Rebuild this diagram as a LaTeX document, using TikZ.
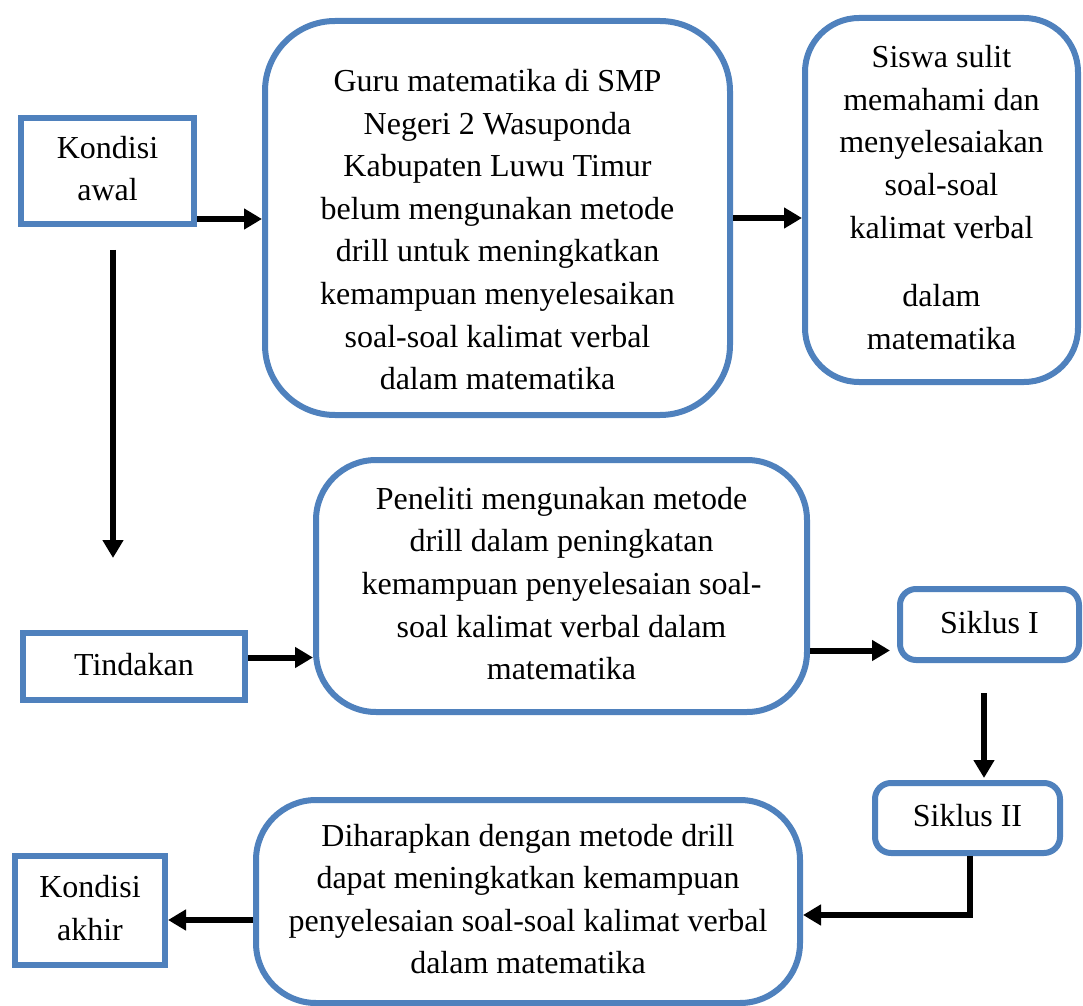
\documentclass[tikz,border=0pt]{standalone}
\usepackage{fontspec}
\setmainfont{Liberation Serif}
\usetikzlibrary{positioning,arrows.meta}

\begin{document}
\begin{tikzpicture}[x=0.5pt,y=-0.5pt]
  \definecolor{borderblue}{HTML}{4F81BD}
  \newcommand{\boxtext}[1]{\fontsize{16}{21.3}\selectfont \begin{tabular}{c}#1\end{tabular}}
  \tikzstyle{block}      = [rectangle, draw = borderblue, line width=3pt, inner sep=0pt, fill=white]
  \tikzstyle{roundblock} = [block, rounded corners=30pt]
  \tikzstyle{smallround} = [block, rounded corners=8pt]
  \tikzstyle{connector}  = [line width=3pt, -{Triangle[length=9pt,width=10pt]}]

  \useasboundingbox (0,0) rectangle (1083,1006);

  \node [block, minimum width=86.5pt, minimum height=53pt]                  (awal)     at (107.5,171)  {\boxtext{Kondisi\\awal}};
  \node [roundblock, rounded corners=35pt, minimum width=232.5pt, minimum height=197pt] (guru) at (497.5,218)
        {\boxtext{\rule{0pt}{29pt}Guru matematika di SMP\\Negeri 2 Wasuponda\\Kabupaten Luwu Timur\\belum mengunakan metode\\drill untuk meningkatkan\\kemampuan menyelesaikan\\soal-soal kalimat verbal\\dalam matematika}};
  \node [roundblock, rounded corners=27pt, minimum width=136.5pt, minimum height=182pt] (siswa) at (941.5,200)
        {\boxtext{Siswa sulit\\memahami dan\\menyelesaiakan\\soal-soal\\kalimat verbal\\[13pt]dalam\\matematika}};
  \node [block, minimum width=111pt, minimum height=33.5pt]                 (tindakan) at (134,666.5)  {\boxtext{Tindakan}};
  \node [roundblock, minimum width=245.5pt, minimum height=126pt]           (peneliti) at (561.5,586)
        {\boxtext{Peneliti mengunakan metode\\drill dalam peningkatan\\kemampuan penyelesaian soal-\\soal kalimat verbal dalam\\matematika}};
  \node [smallround, minimum width=89.5pt, minimum height=35.5pt]           (siklus1)  at (989.5,624.5) {\boxtext{Siklus I}};
  \node [smallround, minimum width=92.5pt, minimum height=35pt]             (siklus2)  at (967.5,818)   {\boxtext{Siklus II}};
  \node [roundblock, minimum width=272pt, minimum height=101.5pt]           (diharap)  at (528,901.5)
        {\boxtext{Diharapkan dengan metode drill\\dapat meningkatkan kemampuan\\penyelesaian soal-soal kalimat verbal\\dalam matematika}};
  \node [block, minimum width=75pt, minimum height=54.5pt]                  (akhir)    at (90,910.5)   {\boxtext{Kondisi\\akhir}};

  \coordinate (a1) at ([yshift=-24pt]awal.east);
  \coordinate (a2) at ([xshift=2.75pt]awal.south);
  \coordinate (a3) at ([yshift=4.5pt]tindakan.east);
  \coordinate (a4) at ([yshift=-13pt]siklus1.west);
  \coordinate (a5) at ([xshift=-2.75pt]siklus1.south);
  \coordinate (a6) at ([xshift=1.25pt]siklus2.south);
  \coordinate (a7) at ([yshift=-6.75pt]diharap.east);
  \coordinate (a8) at ([yshift=-9.25pt]diharap.west);

  \draw [connector] (a1) -- (a1 -| guru.west);
  \draw [connector] (guru.east) -- (guru.east -| siswa.west);
  \draw [connector, shorten <=11.5pt, shorten >=36pt] (a2) -- (a2 |- tindakan.north);
  \draw [connector] (a3) -- (a3 -| peneliti.west);
  \draw [connector, shorten >=3.5pt] (a4 -| peneliti.east) -- (a4);
  \draw [connector, shorten <=15pt, shorten >=1pt] (a5) -- (a5 |- siklus2.north);
  \draw [connector] (a6) |- (a7);
  \draw [connector] (a8) -- (a8 -| akhir.east);
\end{tikzpicture}
\end{document}
